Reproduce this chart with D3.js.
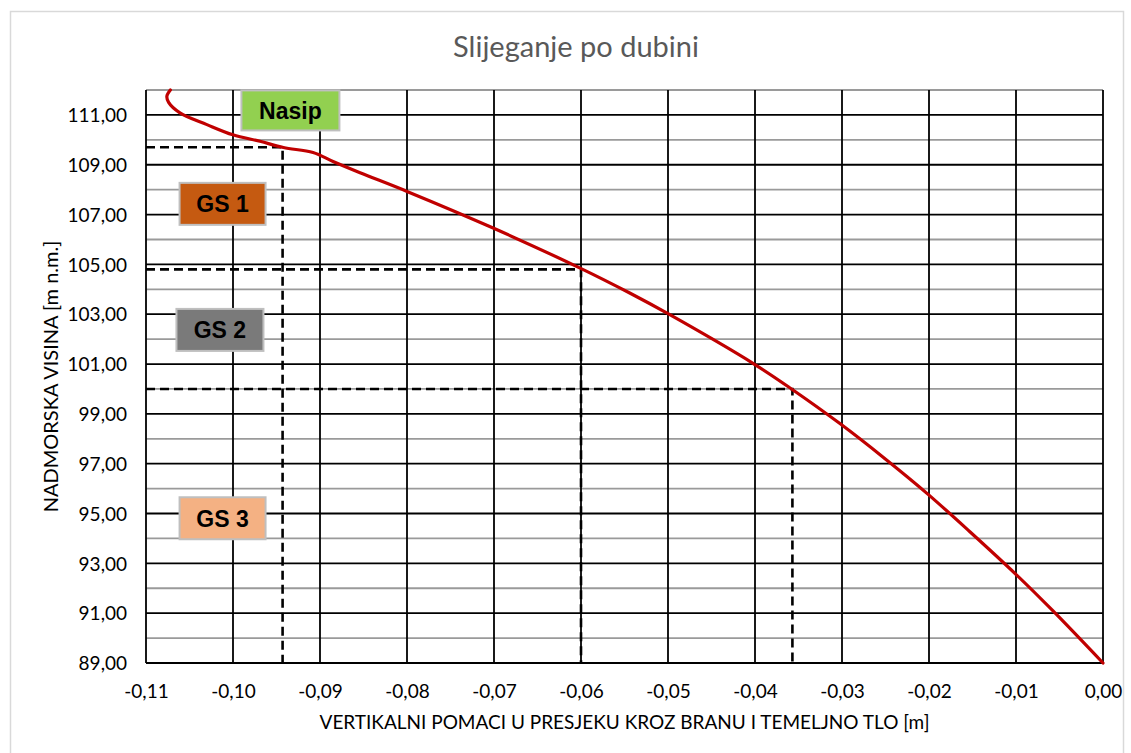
<!DOCTYPE html>
<html>
<head>
<meta charset="utf-8">
<script src="https://cdn.jsdelivr.net/npm/d3@7"></script>
<style>
  html, body { margin: 0; padding: 0; background: #fff; }
  svg { display: block; }
</style>
</head>
<body>
<svg id="chart" width="1131" height="753"></svg>
<script>
// ---------- DATA ----------
const chartTitle = "Slijeganje po dubini";
const xAxisTitle = "VERTIKALNI POMACI U PRESJEKU KROZ BRANU I TEMELJNO TLO [m]";
const yAxisTitle = "NADMORSKA VISINA [m n.m.]";

// settlement curve: displacement [m] vs elevation [m n.m.]
const curveDisp = [-0.1072, -0.1076, -0.1074, -0.1061, -0.1030, -0.1000, -0.0969, -0.0942, -0.0908, -0.0885, -0.0854, -0.0800, -0.0701, -0.0601, -0.0544, -0.0500, -0.0401, -0.0358, -0.0302, -0.0252, -0.0201, -0.0153, -0.0101, -0.0058, 0.0000];
const curveElev = [112.00, 111.75, 111.50, 111.08, 110.61, 110.20, 109.94, 109.69, 109.49, 109.13, 108.68, 107.93, 106.46, 104.85, 103.85, 103.02, 101.00, 100.00, 98.60, 97.24, 95.77, 94.27, 92.59, 91.11, 89.00];

// layer boundary markers (dashed): displacement & elevation of the boundary
const boundaryDisp = [-0.0943, -0.0600, -0.0357];
const boundaryElev = [109.70, 104.80, 100.00];

// layer labels
const layerNames  = ["Nasip", "GS 1", "GS 2", "GS 3"];
const layerDisp   = [-0.0934, -0.1012, -0.1015, -0.1012];
const layerElev   = [111.18, 107.43, 102.37, 94.81];

const xTicks = [-0.11, -0.10, -0.09, -0.08, -0.07, -0.06, -0.05, -0.04, -0.03, -0.02, -0.01, 0.00];
const yMajorTicks = [89, 91, 93, 95, 97, 99, 101, 103, 105, 107, 109, 111];
const yMinorTicks = [90, 92, 94, 96, 98, 100, 102, 104, 106, 108, 110, 112];

// ---------- STYLE / LAYOUT ----------
const layerColors = ["#92d050", "#c55a11", "#7a7a7a", "#f4b183"];
const layerBoxW = [98, 86, 87, 86];
const layerBoxH = 42;
const margin = { left: 146, right: 1131 - 1103, top: 90, bottom: 753 - 663 };
const W = 1131, H = 753;
const fontMain = "Lato, 'Open Sans', sans-serif";

const svg = d3.select("#chart");

// chart area border
svg.append("rect")
  .attr("x", 10.5).attr("y", 11.5)
  .attr("width", 1113).attr("height", 745)
  .attr("fill", "#fff").attr("stroke", "#d9d9d9").attr("stroke-width", 1.5);

const x = d3.scaleLinear().domain([-0.11, 0]).range([margin.left, W - margin.right]);
const y = d3.scaleLinear().domain([89, 112]).range([H - margin.bottom, margin.top]);

const fmt = v => d3.format(".2f")(v).replace(".", ",").replace("−", "-");

// minor horizontal grid (gray)
svg.append("g").selectAll("line").data(yMinorTicks).join("line")
  .attr("x1", x(-0.11)).attr("x2", x(0))
  .attr("y1", d => y(d)).attr("y2", d => y(d))
  .attr("stroke", "#9a9a9a").attr("stroke-width", 1.8);

// major horizontal grid (black)
svg.append("g").selectAll("line").data(yMajorTicks).join("line")
  .attr("x1", x(-0.11)).attr("x2", x(0))
  .attr("y1", d => y(d)).attr("y2", d => y(d))
  .attr("stroke", "#000").attr("stroke-width", 1.8);

// vertical grid (black)
svg.append("g").selectAll("line").data(xTicks).join("line")
  .attr("x1", d => x(d)).attr("x2", d => x(d))
  .attr("y1", y(89)).attr("y2", y(112))
  .attr("stroke", "#000").attr("stroke-width", 1.8);

// axes (labels only)
const xAxis = d3.axisBottom(x).tickValues(xTicks).tickFormat(fmt).tickSize(0).tickPadding(0);
const gx = svg.append("g").attr("transform", `translate(0,${y(89)})`).call(xAxis);
gx.select(".domain").remove();
gx.selectAll("text").attr("dy", null).attr("y", 35)
  .style("font-family", fontMain).style("font-size", "19px").attr("fill", "#000");

const yAxis = d3.axisLeft(y).tickValues(yMajorTicks).tickFormat(fmt).tickSize(0).tickPadding(0);
const gy = svg.append("g").attr("transform", `translate(${x(-0.11)},0)`).call(yAxis);
gy.select(".domain").remove();
gy.selectAll("text").attr("x", -19).attr("dy", "0.35em")
  .style("font-family", fontMain).style("font-size", "19px").attr("fill", "#000");

// dashed boundary lines
const dashLine = d3.line().x(d => x(d[0])).y(d => y(d[1]));
boundaryDisp.forEach((bd, i) => {
  const pts = [[-0.11, boundaryElev[i]], [bd, boundaryElev[i]], [bd, 89]];
  svg.append("path").attr("d", dashLine(pts))
    .attr("fill", "none").attr("stroke", "#000").attr("stroke-width", 2.6)
    .attr("stroke-dasharray", "9,5");
});

// settlement curve
const curvePts = curveDisp.map((d, i) => [d, curveElev[i]]);
const curveLine = d3.line().x(d => x(d[0])).y(d => y(d[1])).curve(d3.curveCatmullRom.alpha(0.5));
svg.append("path").attr("d", curveLine(curvePts))
  .attr("fill", "none").attr("stroke", "#c00000").attr("stroke-width", 3.2)
  .attr("stroke-linejoin", "round").attr("stroke-linecap", "round");

// layer labels
layerNames.forEach((name, i) => {
  const cx = x(layerDisp[i]), cy = y(layerElev[i]);
  const w = layerBoxW[i], h = i === 0 ? 40 : layerBoxH;
  svg.append("rect")
    .attr("x", cx - w / 2).attr("y", cy - h / 2).attr("width", w).attr("height", h)
    .attr("fill", layerColors[i]).attr("stroke", "#bfbfbf").attr("stroke-width", 2);
  svg.append("text")
    .attr("x", cx).attr("y", cy).attr("dy", "0.36em").attr("text-anchor", "middle")
    .style("font-family", "'Liberation Sans', Arial, sans-serif").style("font-weight", "bold")
    .style("font-size", "23px").attr("fill", "#000").text(name);
});

// titles
svg.append("text").attr("x", 576).attr("y", 57).attr("text-anchor", "middle")
  .style("font-family", fontMain).style("font-size", "29px").attr("fill", "#595959")
  .text(chartTitle);

svg.append("text").attr("x", (x(-0.11) + x(0)) / 2).attr("y", 729).attr("text-anchor", "middle")
  .style("font-family", fontMain).style("font-size", "19px").attr("fill", "#000")
  .text(xAxisTitle);

svg.append("text")
  .attr("transform", `translate(58,${(y(89) + y(112)) / 2}) rotate(-90)`)
  .attr("text-anchor", "middle")
  .style("font-family", fontMain).style("font-size", "20px").attr("fill", "#000")
  .text(yAxisTitle);
</script>
</body>
</html>
